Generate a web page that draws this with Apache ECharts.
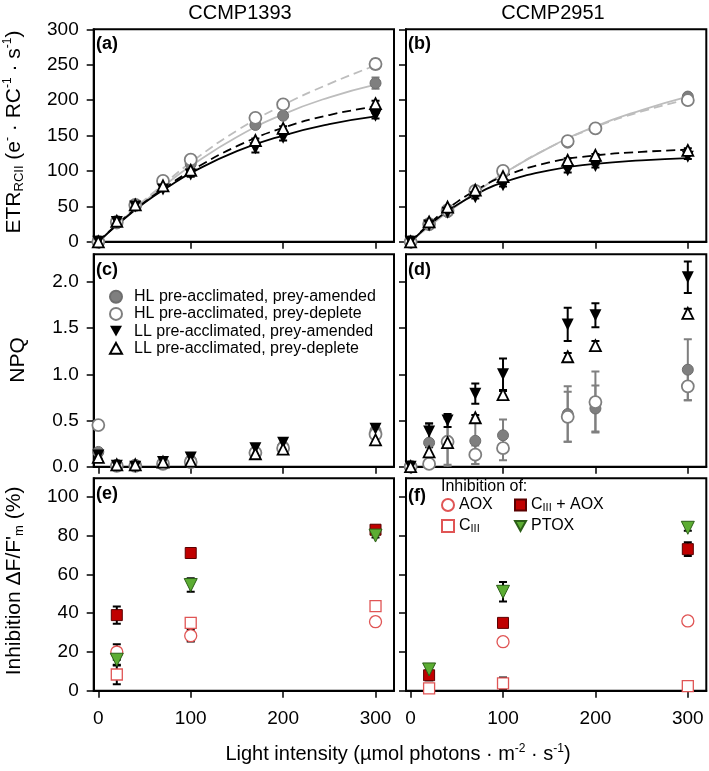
<!DOCTYPE html>
<html>
<head>
<meta charset="utf-8">
<script src="https://cdn.jsdelivr.net/npm/echarts@6/dist/echarts.min.js"></script>
<style>
  html, body { margin: 0; padding: 0; background: #fff; }
  #chart { width: 709px; height: 771px; }
</style>
</head>
<body>
<div id="chart"></div>
<script>
// light intensities (umol photons m-2 s-1)
const lightX = [0, 20, 40, 70, 100, 170, 200, 300];
const fitX = [0, 25, 50, 75, 100, 150, 200, 250, 300];
const inhX = [20, 100, 300];
const xTicks = [0, 100, 200, 300];
const etrTicks = [0, 50, 100, 150, 200, 250, 300];
const npqTicks = [0, 0.5, 1, 1.5, 2];
const inhTicks = [0, 20, 40, 60, 80, 100];

// (a) ETR, CCMP1393
const a_hlAm = [0, 26, 51, 84, 110, 165, 178, 224];
const a_hlAmErr = [0, 2, 2, 2, 3, 3, 3, 8];
const a_hlDe = [0, 28, 52, 86, 116, 175, 194, 251];
const a_hlDeErr = [0, 2, 2, 2, 3, 3, 3, 7];
const a_llAm = [0, 28, 50, 74, 95, 132, 147, 178];
const a_llAmErr = [0, 2, 2, 2, 3, 6, 4, 4];
const a_llDe = [0, 29, 52, 79, 101, 143, 160, 195];
const a_llDeErr = [0, 2, 2, 2, 3, 3, 3, 4];
const a_fitHlAm = [0, 30, 57, 83, 107, 148, 180, 204, 222];
const a_fitHlDe = [0, 31, 59, 86, 112, 157, 193, 223, 249];
const a_fitLlAm = [0, 29, 55, 77, 97, 128, 150, 166, 177];
const a_fitLlDe = [0, 30, 56, 79, 100, 135, 161, 179, 191];

// (b) ETR, CCMP2951
const b_hlAm = [0, 24, 42, 70, 97, 140, 160, 205];
const b_hlAmErr = [0, 2, 2, 2, 2, 3, 3, 4];
const b_hlDe = [0, 25, 44, 72, 100, 142, 160, 200];
const b_hlDeErr = [0, 2, 2, 2, 2, 3, 3, 4];
const b_llAm = [0, 23, 41, 63, 80, 101, 107, 120];
const b_llAmErr = [0, 2, 2, 2, 2, 3, 2, 3];
const b_llDe = [0, 28, 49, 73, 92, 115, 122, 129];
const b_llDeErr = [0, 2, 2, 2, 2, 3, 2, 3];
const b_fitHlAm = [0, 27, 51, 74, 96, 133, 163, 186, 205];
const b_fitHlDe = [0, 27, 51, 74, 96, 133, 162, 184, 201];
const b_fitLlAm = [0, 29, 52, 70, 84, 101, 110, 115, 118];
const b_fitLlDe = [0, 31, 56, 76, 92, 112, 122, 127, 130];

// (c) NPQ, CCMP1393
const c_hlAm = [0.16, 0.02, 0.02, 0.04, 0.07, 0.16, 0.22, 0.39];
const c_hlAmErr = [0.03, 0.01, 0.01, 0.02, 0.03, 0.03, 0.04, 0.04];
const c_hlDe = [0.45, 0.01, 0.01, 0.03, 0.05, 0.15, 0.20, 0.35];
const c_hlDeErr = [0.02, 0.01, 0.01, 0.02, 0.02, 0.03, 0.03, 0.04];
const c_llAm = [0.12, 0.01, 0.0, 0.05, 0.10, 0.20, 0.26, 0.41];
const c_llAmErr = [0.03, 0.01, 0.01, 0.02, 0.04, 0.04, 0.04, 0.04];
const c_llDe = [0.10, 0.02, 0.02, 0.05, 0.06, 0.14, 0.19, 0.29];
const c_llDeErr = [0.02, 0.01, 0.01, 0.02, 0.03, 0.03, 0.03, 0.04];

// (d) NPQ, CCMP2951
const d_hlAm = [0, 0.26, 0.27, 0.28, 0.34, 0.57, 0.63, 1.05];
const d_hlAmErr = [0, 0.2, 0.25, 0.25, 0.17, 0.3, 0.25, 0.33];
const d_hlDe = [0, 0.03, 0.27, 0.13, 0.20, 0.54, 0.70, 0.87];
const d_hlDeErr = [0, 0.02, 0.27, 0.1, 0.13, 0.27, 0.33, 0.15];
const d_llAm = [0, 0.38, 0.50, 0.79, 1.00, 1.54, 1.64, 2.05];
const d_llAmErr = [0, 0.09, 0.07, 0.11, 0.17, 0.18, 0.13, 0.17];
const d_llDe = [0, 0.16, 0.26, 0.53, 0.78, 1.19, 1.31, 1.66];
const d_llDeErr = [0, 0.05, 0.04, 0.03, 0.04, 0.04, 0.05, 0.05];

// (e) inhibition, CCMP1393
const e_aox = [20, 28.4, 35.6];
const e_aoxErr = [4, 3, 2];
const e_c3 = [8.4, 35, 43.6];
const e_c3Err = [5, 1, 1];
const e_c3aox = [39, 71, 83];
const e_c3aoxErr = [4.5, 2, 2];
const e_ptox = [16, 54.5, 80];
const e_ptoxErr = [3, 3.5, 1];

// (f) inhibition, CCMP2951
const f_aox = [null, 25.3, 36];
const f_aoxErr = [0, 1, 1];
const f_c3 = [1.2, 3.8, 2.4];
const f_c3Err = [0.5, 3, 0.5];
const f_c3aox = [8, 35, 73];
const f_c3aoxErr = [2.5, 1, 3.5];
const f_ptox = [11, 51, 84];
const f_ptoxErr = [1.5, 5, 1.5];

const FONT = '"Liberation Sans", Arial, sans-serif';
const chart = echarts.init(document.getElementById('chart'));

const colLeft = [93.7, 406];
const rowTop = [29.3, 254.2, 478.3];
const plotW = 300.3, plotH = 212.5;
const yMax = [300, 2.3, 109.5];
const yTicks = [etrTicks, npqTicks, inhTicks];

const grids = [], xAxes = [], yAxes = [];
for (let r = 0; r < 3; r++) {
  for (let c = 0; c < 2; c++) {
    const i = r * 2 + c;
    grids.push({
      left: colLeft[c], top: rowTop[r], width: plotW, height: plotH,
      show: true, borderColor: '#000', borderWidth: 2
    });
    xAxes.push({
      type: 'value', gridIndex: i, min: -5, max: 320,
      axisLine: { show: true, onZero: false, lineStyle: { color: '#000', width: 2 } },
      axisTick: { show: true, length: 7, customValues: xTicks, lineStyle: { color: '#000', width: 1.5 } },
      axisLabel: { show: r === 2, customValues: xTicks, color: '#000', fontSize: 19, fontFamily: FONT, margin: 18 },
      splitLine: { show: false }
    });
    yAxes.push({
      type: 'value', gridIndex: i, min: 0, max: yMax[r],
      axisLine: { show: true, onZero: false, lineStyle: { color: '#000', width: 2 } },
      axisTick: { show: true, length: 7, customValues: yTicks[r], lineStyle: { color: '#000', width: 1.5 } },
      axisLabel: {
        show: c === 0, customValues: yTicks[r], color: '#000', fontSize: 19, fontFamily: FONT, margin: 15,
        formatter: r === 1 ? (v => v.toFixed(1)) : (v => String(v))
      },
      splitLine: { show: false }
    });
  }
}

const HL_AM = { symbol: 'circle', symbolSize: 11, itemStyle: { color: '#7f7f7f', borderColor: '#6e6e6e', borderWidth: 1, opacity: 1 } };
const HL_DE = { symbol: 'circle', symbolSize: 12, itemStyle: { color: '#fff', borderColor: '#7f7f7f', borderWidth: 1.8, opacity: 1 } };
const LL_AM = { symbol: 'triangle', symbolRotate: 180, symbolSize: 12, itemStyle: { color: '#000', opacity: 1 } };
const LL_DE = { symbol: 'triangle', symbolSize: 11, itemStyle: { color: '#fff', borderColor: '#000', borderWidth: 1.8, opacity: 1 } };
const AOX = { symbol: 'circle', symbolSize: 12, itemStyle: { color: '#fff', borderColor: '#e05555', borderWidth: 1.3, opacity: 1 } };
const C3 = { symbol: 'rect', symbolSize: 11, itemStyle: { color: '#fff', borderColor: '#e05555', borderWidth: 1.3, opacity: 1 } };
const C3AOX = { symbol: 'rect', symbolSize: 11, itemStyle: { color: '#c00000', borderColor: '#5a0000', borderWidth: 1, opacity: 1 } };
const PTOX = { symbol: 'triangle', symbolRotate: 180, symbolSize: 13, itemStyle: { color: '#5cad33', borderColor: '#2b5e17', borderWidth: 1, opacity: 1 } };

const NAMES = ['HL pre-acclimated, prey-amended', 'HL pre-acclimated, prey-deplete',
  'LL pre-acclimated, prey-amended', 'LL pre-acclimated, prey-deplete'];
const INH = ['AOX', 'CIII', 'CIII + AOX', 'PTOX'];
const DOWN = 'path://M0,0L10,0L5,9Z';
const UP = 'path://M5,0L10,9L0,9Z';

function scatter(idx, name, xs, ys, sym) {
  return Object.assign({
    type: 'scatter', name, xAxisIndex: idx, yAxisIndex: idx, z: 5,
    data: xs.map((x, i) => [x, ys[i]]).filter(d => d[1] !== null)
  }, sym);
}

function fit(idx, ys, color, dashed) {
  return {
    type: 'line', xAxisIndex: idx, yAxisIndex: idx, z: 2, silent: true,
    data: fitX.map((x, i) => [x, ys[i]]), smooth: 0.5, showSymbol: false, symbol: 'none',
    lineStyle: { color, width: 1.8, type: dashed ? [9, 5] : 'solid' }
  };
}

function errBars(idx, xs, ys, es, color) {
  const data = [];
  xs.forEach((x, i) => {
    if (ys[i] !== null && es[i] > 0) data.push([x, ys[i] - es[i], ys[i] + es[i]]);
  });
  return {
    type: 'custom', xAxisIndex: idx, yAxisIndex: idx, z: 3, silent: true, clip: true, data,
    renderItem: (params, api) => {
      const lo = api.coord([api.value(0), api.value(1)]);
      const hi = api.coord([api.value(0), api.value(2)]);
      const w = 4;
      const st = { stroke: color, lineWidth: 2 };
      return {
        type: 'group', children: [
          { type: 'line', shape: { x1: lo[0], y1: lo[1], x2: hi[0], y2: hi[1] }, style: st },
          { type: 'line', shape: { x1: lo[0] - w, y1: lo[1], x2: lo[0] + w, y2: lo[1] }, style: st },
          { type: 'line', shape: { x1: hi[0] - w, y1: hi[1], x2: hi[0] + w, y2: hi[1] }, style: st }
        ]
      };
    }
  };
}

const HL_LINE = '#bdbdbd', HL_BAR = '#7f7f7f';
const series = [];

// panels (a), (b)
[[0, a_fitHlAm, a_fitHlDe, a_fitLlAm, a_fitLlDe, a_hlAm, a_hlAmErr, a_hlDe, a_hlDeErr, a_llAm, a_llAmErr, a_llDe, a_llDeErr],
 [1, b_fitHlAm, b_fitHlDe, b_fitLlAm, b_fitLlDe, b_hlAm, b_hlAmErr, b_hlDe, b_hlDeErr, b_llAm, b_llAmErr, b_llDe, b_llDeErr]
].forEach(p => {
  const [i, fHa, fHd, fLa, fLd, ha, hae, hd, hde, la, lae, ld, lde] = p;
  series.push(fit(i, fHa, HL_LINE, false), fit(i, fHd, HL_LINE, true),
    fit(i, fLa, '#000', false), fit(i, fLd, '#000', true));
  series.push(errBars(i, lightX, ha, hae, HL_BAR), errBars(i, lightX, hd, hde, HL_BAR),
    errBars(i, lightX, la, lae, '#000'), errBars(i, lightX, ld, lde, '#000'));
  series.push(scatter(i, NAMES[0], lightX, ha, HL_AM), scatter(i, NAMES[1], lightX, hd, HL_DE),
    scatter(i, NAMES[2], lightX, la, LL_AM), scatter(i, NAMES[3], lightX, ld, LL_DE));
});

// panels (c), (d)
[[2, c_hlAm, c_hlAmErr, c_hlDe, c_hlDeErr, c_llAm, c_llAmErr, c_llDe, c_llDeErr],
 [3, d_hlAm, d_hlAmErr, d_hlDe, d_hlDeErr, d_llAm, d_llAmErr, d_llDe, d_llDeErr]
].forEach(p => {
  const [i, ha, hae, hd, hde, la, lae, ld, lde] = p;
  series.push(errBars(i, lightX, ha, hae, HL_BAR), errBars(i, lightX, hd, hde, HL_BAR),
    errBars(i, lightX, la, lae, '#000'), errBars(i, lightX, ld, lde, '#000'));
  series.push(scatter(i, NAMES[0], lightX, ha, HL_AM), scatter(i, NAMES[1], lightX, hd, HL_DE),
    scatter(i, NAMES[2], lightX, la, LL_AM), scatter(i, NAMES[3], lightX, ld, LL_DE));
});

// panels (e), (f)
[[4, e_aox, e_aoxErr, e_c3, e_c3Err, e_c3aox, e_c3aoxErr, e_ptox, e_ptoxErr],
 [5, f_aox, f_aoxErr, f_c3, f_c3Err, f_c3aox, f_c3aoxErr, f_ptox, f_ptoxErr]
].forEach(p => {
  const [i, ao, aoe, c3, c3e, ca, cae, pt, pte] = p;
  series.push(errBars(i, inhX, ao, aoe, '#000'), errBars(i, inhX, c3, c3e, '#000'),
    errBars(i, inhX, ca, cae, '#000'), errBars(i, inhX, pt, pte, '#000'));
  series.push(scatter(i, INH[0], inhX, ao, AOX), scatter(i, INH[1], inhX, c3, C3),
    scatter(i, INH[2], inhX, ca, C3AOX), scatter(i, INH[3], inhX, pt, PTOX));
});

// axis-title rich styles: main text, subscript, superscript
function titleRich(size) {
  return {
    t: { fontSize: size, lineHeight: size + 3, fontFamily: FONT, color: '#000' },
    s: { fontSize: Math.round(size * 0.62), lineHeight: 11, fontFamily: FONT, color: '#000', verticalAlign: 'bottom' },
    p: { fontSize: Math.round(size * 0.58), lineHeight: 9, fontFamily: FONT, color: '#000', verticalAlign: 'top' }
  };
}
const lt = { fontSize: 16, lineHeight: 16, fontFamily: FONT, color: '#000' };
const ls = { fontSize: 11, lineHeight: 9, fontFamily: FONT, color: '#000', verticalAlign: 'bottom' };

function txt(x, y, text, size, bold, align) {
  return {
    type: 'text', x, y, silent: true,
    style: {
      text, fill: '#000', font: (bold ? 'bold ' : '') + size + 'px ' + FONT,
      align: align || 'left', verticalAlign: 'middle', textAlign: align || 'left', textVerticalAlign: 'middle'
    }
  };
}

function richTxt(x, y, text, rot, size) {
  return {
    type: 'text', x, y, rotation: rot, silent: true,
    style: {
      text, rich: titleRich(size), fill: '#000',
      align: 'center', verticalAlign: 'middle', textAlign: 'center', textVerticalAlign: 'middle'
    }
  };
}

const graphic = [
  txt(240, 13, 'CCMP1393', 20, false, 'center'),
  txt(553, 13, 'CCMP2951', 20, false, 'center'),
  txt(96, 44, '(a)', 18, true), txt(408, 44, '(b)', 18, true),
  txt(96, 270, '(c)', 18, true), txt(408, 270, '(d)', 18, true),
  txt(96, 494, '(e)', 18, true), txt(408, 496, '(f)', 18, true),
  txt(441, 487, 'Inhibition of:', 16, false),
  richTxt(14, 132, '{t|ETR}{s|RCII}{t| (e}{p|-}{t| · RC}{p|-1}{t| · s}{p|-1}{t|)}', Math.PI / 2, 21),
  richTxt(18, 360, '{t|NPQ}', Math.PI / 2, 21),
  richTxt(14, 581, '{t|Inhibition ΔF/F\'}{s|m}{t| (%)}', Math.PI / 2, 21),
  richTxt(398, 754, '{t|Light intensity (µmol photons · m}{p|-2}{t| · s}{p|-1}{t|)}', 0, 20)
];

const inhFmt = {
  'AOX': '{t|AOX}',
  'CIII': '{t|C}{s|III}',
  'CIII + AOX': '{t|C}{s|III}{t| + AOX}',
  'PTOX': '{t|PTOX}'
};

const legend = [
  {
    orient: 'vertical', left: 109, top: 288.7, padding: 0, itemGap: 1.2,
    itemWidth: 12, itemHeight: 12, selectedMode: false,
    data: [
      { name: NAMES[0], icon: 'circle' },
      { name: NAMES[1], icon: 'circle' },
      { name: NAMES[2], icon: DOWN },
      { name: NAMES[3], icon: UP }
    ],
    textStyle: { fontSize: 16, lineHeight: 16, color: '#000', fontFamily: FONT, padding: [0, 0, 0, 7] }
  },
  {
    orient: 'vertical', left: 441, top: 497, padding: 0, itemGap: 5,
    itemWidth: 12, itemHeight: 12, selectedMode: false,
    data: [{ name: 'AOX', icon: 'circle' }, { name: 'CIII', icon: 'rect' }],
    formatter: n => inhFmt[n], textStyle: { rich: { t: lt, s: ls } }
  },
  {
    orient: 'vertical', left: 514, top: 497, padding: 0, itemGap: 5,
    itemWidth: 11, itemHeight: 11, selectedMode: false,
    data: [{ name: 'CIII + AOX', icon: 'rect' }, { name: 'PTOX', icon: DOWN }],
    formatter: n => inhFmt[n], textStyle: { rich: { t: lt, s: ls } }
  }
];

chart.setOption({
  animation: false,
  backgroundColor: '#fff',
  grid: grids,
  xAxis: xAxes,
  yAxis: yAxes,
  legend,
  graphic,
  series
});
</script>
</body>
</html>
